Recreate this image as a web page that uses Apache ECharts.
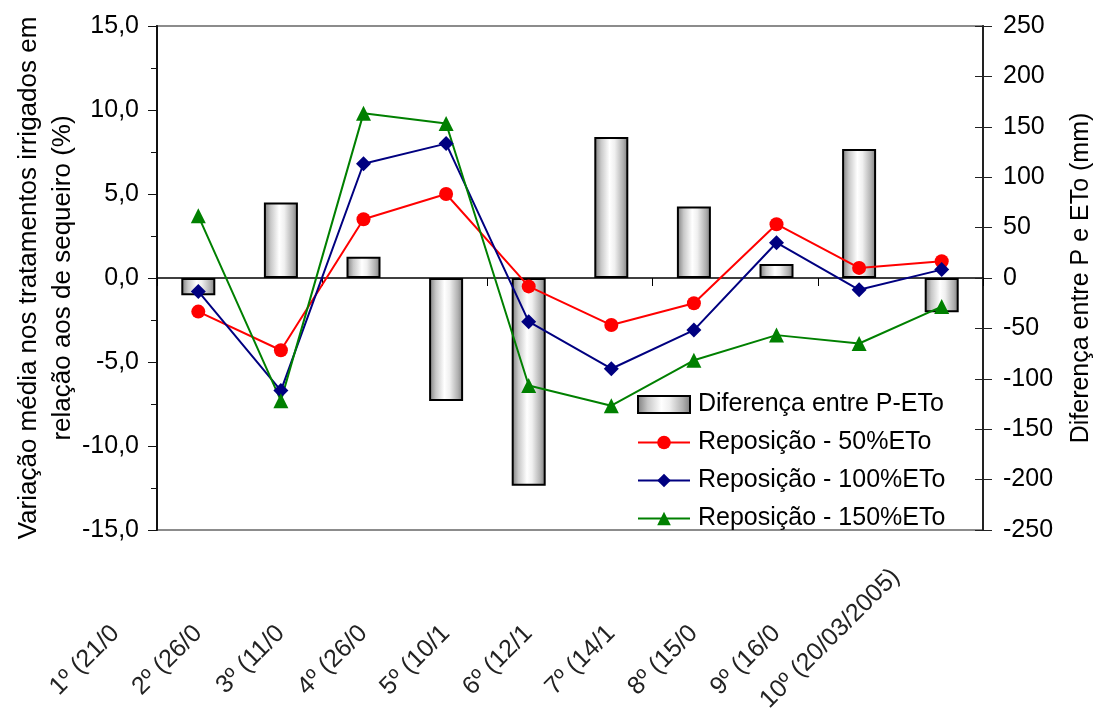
<!DOCTYPE html>
<html><head><meta charset="utf-8">
<script src="https://cdn.jsdelivr.net/npm/echarts@6/dist/echarts.min.js"></script>
<style>html,body{margin:0;padding:0;background:#fff}#c{width:1098px;height:713px}</style>
</head><body><div id="c"></div>
<script>
// Categories (as visible in the reference; labels 1-9 are clipped there)
const categories = ['1º (21/0','2º (26/0','3º (11/0','4º (26/0','5º (10/1','6º (12/1','7º (14/1','8º (15/0','9º (16/0','10º (20/03/2005)'];
// Bars: difference P - ETo (mm), right axis
const diffPETo = [-17, 75, 21, -122, -206, 140, 71, 14, 128, -34];
// Lines: mean variation (%), left axis
const rep50  = [-2.0, -4.3, 3.5, 5.0, -0.5, -2.8, -1.5, 3.2, 0.6, 1.0];
const rep100 = [-0.8, -6.7, 6.8, 8.0, -2.6, -5.4, -3.1, 2.1, -0.7, 0.5];
const rep150 = [3.7, -7.3, 9.8, 9.2, -6.4, -7.6, -4.9, -3.4, -3.9, -1.7];
// Axis ranges
const leftMin = -15, leftMax = 15, leftStep = 5;
const rightMin = -250, rightMax = 250, rightStep = 50;
const seriesNames = ['Diferença entre P-ETo', 'Reposição - 50%ETo', 'Reposição - 100%ETo', 'Reposição - 150%ETo'];
const leftTitle = 'Variação média nos tratamentos irrigados em\nrelação aos de sequeiro (%)';
const rightTitle = 'Diferença entre P e ETo (mm)';

const FONT = 'Liberation Sans, Arial, sans-serif';
const chart = echarts.init(document.getElementById('c'), null, {renderer: 'canvas'});
const barGrad = new echarts.graphic.LinearGradient(0, 0, 1, 0, [
  {offset: 0, color: '#7a7a7a'},
  {offset: 0.2, color: '#c8c8c8'},
  {offset: 0.45, color: '#ffffff'},
  {offset: 0.6, color: '#f0f0f0'},
  {offset: 0.85, color: '#b0b0b0'},
  {offset: 1, color: '#7a7a7a'}
]);
const option = {
  animation: false,
  backgroundColor: '#fff',
  grid: {left: 157, right: 115, top: 26, bottom: 183, show: true, borderColor: '#8c8c8c', borderWidth: 2, backgroundColor: 'transparent', outerBoundsMode: 'none', containLabel: false},
  legend: {
    orient: 'vertical', left: 637, top: 392, padding: 0, itemGap: 13,
    itemWidth: 52, itemHeight: 17,
    textStyle: {fontFamily: FONT, fontSize: 25, color: '#000', padding: [0, 0, 0, 3]},
    data: [{name: seriesNames[0], icon: 'rect'}, seriesNames[1], seriesNames[2], seriesNames[3]]
  },
  xAxis: [{
    type: 'category', data: categories, position: 'bottom',
    axisLine: {onZero: true, lineStyle: {color: '#000', width: 1.5}},
    axisTick: {show: true, inside: false, length: 8, lineStyle: {color: '#000', width: 1}},
    axisLabel: {show: false}, splitLine: {show: false}
  }, {
    type: 'category', data: categories, position: 'bottom',
    axisLine: {show: false, onZero: false}, axisTick: {show: false}, splitLine: {show: false},
    axisLabel: {
      show: true, interval: 0, rotate: 45, margin: -3, hideOverlap: false,
      color: '#222', fontFamily: FONT, fontSize: 25,
      formatter: (v, i) => (i === categories.length - 1 ? '{b|' : '{a|') + v + '}',
      rich: {
        a: {fontFamily: FONT, fontSize: 25, color: '#222', padding: [28, 131, 0, 0]},
        b: {fontFamily: FONT, fontSize: 25, color: '#222', padding: [0, 65, 0, 0]}
      }
    }
  }],
  yAxis: [{
    type: 'value', position: 'left', min: leftMin, max: leftMax, interval: leftStep,
    name: leftTitle, nameLocation: 'middle', nameRotate: 90, nameGap: 77, nameMoveOverlap: false,
    nameTextStyle: {fontFamily: FONT, fontSize: 26, color: '#000', lineHeight: 34, align: 'center'},
    axisLine: {show: true, lineStyle: {color: '#111', width: 2}},
    axisTick: {show: true, inside: false, length: 9, lineStyle: {color: '#111', width: 1}},
    minorTick: {show: true, splitNumber: 2, length: 6, lineStyle: {color: '#111', width: 1}},
    splitLine: {show: false},
    axisLabel: {margin: 18, fontFamily: FONT, fontSize: 25, color: '#000', formatter: v => v.toFixed(1).replace('.', ',')}
  }, {
    type: 'value', position: 'right', min: rightMin, max: rightMax, interval: rightStep,
    name: rightTitle, nameLocation: 'middle', nameRotate: 90, nameGap: 86, nameMoveOverlap: false,
    nameTextStyle: {fontFamily: FONT, fontSize: 25, color: '#000'},
    axisLine: {show: true, lineStyle: {color: '#222', width: 2}},
    axisTick: {show: true, inside: false, length: 9, lineStyle: {color: '#222', width: 1}},
    splitLine: {show: false},
    axisLabel: {margin: 20, fontFamily: FONT, fontSize: 25, color: '#000'}
  }, {
    type: 'value', position: 'right', min: rightMin, max: rightMax, interval: rightStep,
    axisLine: {show: false}, axisLabel: {show: false}, splitLine: {show: false},
    axisTick: {show: true, inside: true, length: 8, lineStyle: {color: '#222', width: 1}}
  }],
  series: [{
    name: seriesNames[0], type: 'bar', xAxisIndex: 0, yAxisIndex: 1, data: diffPETo,
    barWidth: 34,
    itemStyle: {color: barGrad, borderColor: '#000', borderWidth: 2}
  }, {
    name: seriesNames[1], type: 'line', xAxisIndex: 0, yAxisIndex: 0, data: rep50,
    symbol: 'circle', symbolSize: 14, color: '#ff0000',
    lineStyle: {color: '#ff0000', width: 2}, itemStyle: {color: '#ff0000'}
  }, {
    name: seriesNames[2], type: 'line', xAxisIndex: 0, yAxisIndex: 0, data: rep100,
    symbol: 'diamond', symbolSize: 15, color: '#000080',
    lineStyle: {color: '#000080', width: 2}, itemStyle: {color: '#000080'}
  }, {
    name: seriesNames[3], type: 'line', xAxisIndex: 0, yAxisIndex: 0, data: rep150,
    symbol: 'triangle', symbolSize: 15, color: '#008000',
    lineStyle: {color: '#008000', width: 2}, itemStyle: {color: '#008000'}
  }]
};
chart.setOption(option);
</script>
</body></html>
